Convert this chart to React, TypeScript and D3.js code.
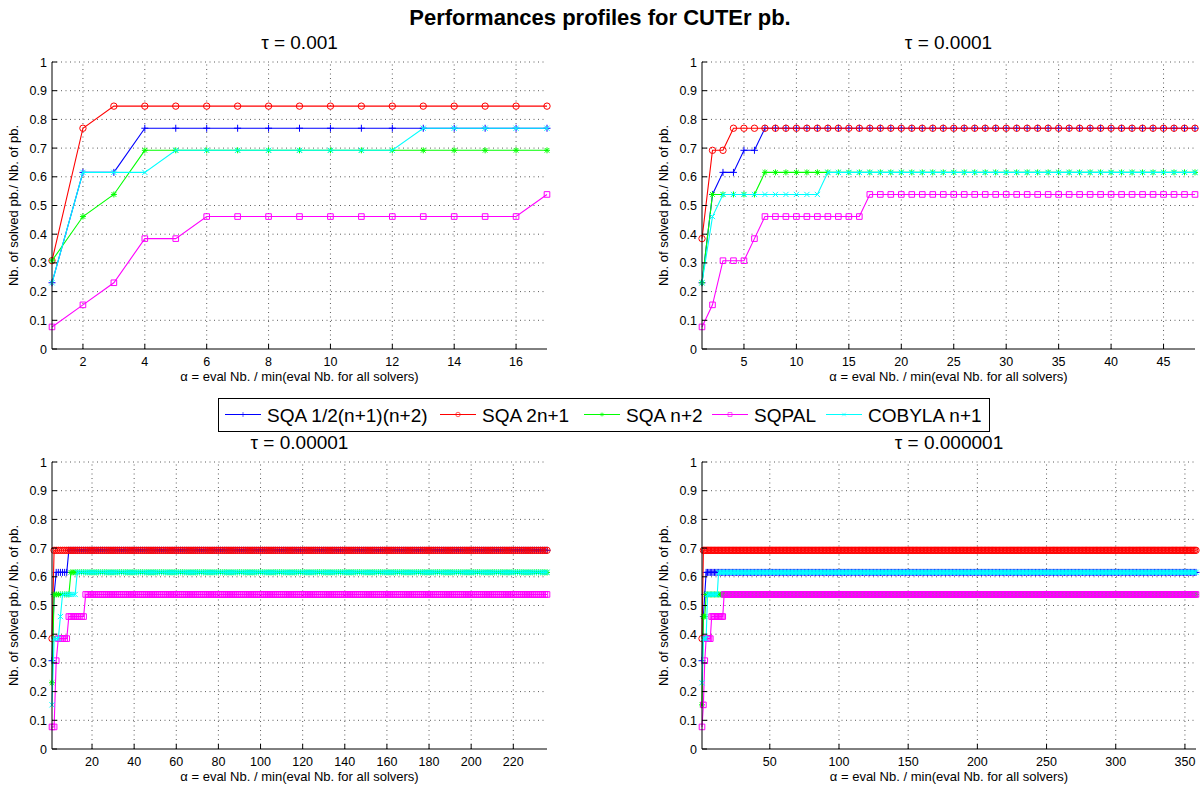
import React from "react";
import * as d3 from "d3";

// Performance profiles: fraction of the 13 CUTEr problems solved within a
// factor alpha of the best solver, for four accuracy levels tau.
// Each series is stored as its steps: [alpha at which the level starts, ratio].

const SERIES_NAMES = ["SQA 1/2(n+1)(n+2)", "SQA 2n+1", "SQA n+2", "SQPAL", "COBYLA n+1"];
const SERIES_COLORS = ["#0000ff", "#ff0000", "#00ff00", "#ff00ff", "#00ffff"];
const SERIES_MARKERS = ["plus", "circle", "star", "square", "cross"];

const TAU_LABELS = ["τ = 0.001", "τ = 0.0001", "τ = 0.00001", "τ = 0.000001"];
const ALPHA_MAX = [17, 48, 236, 358];
const X_TICKS = [
  [2, 4, 6, 8, 10, 12, 14, 16],
  [5, 10, 15, 20, 25, 30, 35, 40, 45],
  [20, 40, 60, 80, 100, 120, 140, 160, 180, 200, 220],
  [50, 100, 150, 200, 250, 300, 350],
];
const Y_TICKS = [0, 0.1, 0.2, 0.3, 0.4, 0.5, 0.6, 0.7, 0.8, 0.9, 1];

// tau = 0.001
const tau1Blue = [[1, 0.2308], [2, 0.6154], [4, 0.7692]];
const tau1Red = [[1, 0.3077], [2, 0.7692], [3, 0.8462]];
const tau1Green = [[1, 0.3077], [2, 0.4615], [3, 0.5385], [4, 0.6923]];
const tau1Magenta = [[1, 0.0769], [2, 0.1538], [3, 0.2308], [4, 0.3846], [6, 0.4615], [17, 0.5385]];
const tau1Cyan = [[1, 0.2308], [2, 0.6154], [5, 0.6923], [13, 0.7692]];

// tau = 0.0001
const tau2Blue = [[1, 0.2308], [2, 0.5385], [3, 0.6154], [5, 0.6923], [7, 0.7692]];
const tau2Red = [[1, 0.3846], [2, 0.6923], [4, 0.7692]];
const tau2Green = [[1, 0.2308], [2, 0.5385], [7, 0.6154]];
const tau2Magenta = [[1, 0.0769], [2, 0.1538], [3, 0.3077], [6, 0.3846], [7, 0.4615], [17, 0.5385]];
const tau2Cyan = [[1, 0.2308], [2, 0.4615], [3, 0.5385], [13, 0.6154]];

// tau = 0.00001
const tau3Blue = [[1, 0.3077], [2, 0.5385], [3, 0.6154], [9, 0.6923]];
const tau3Red = [[1, 0.3846], [2, 0.6923]];
const tau3Green = [[1, 0.2308], [2, 0.5385], [10, 0.6154]];
const tau3Magenta = [[1, 0.0769], [3, 0.3077], [4, 0.3846], [9, 0.4615], [17, 0.5385]];
const tau3Cyan = [[1, 0.1538], [2, 0.3846], [5, 0.4615], [6, 0.5385], [13, 0.6154]];

// tau = 0.000001
const tau4Blue = [[1, 0.3077], [2, 0.4615], [3, 0.5385], [4, 0.6154]];
const tau4Red = [[1, 0.3846], [2, 0.6923]];
const tau4Green = [[1, 0.1538], [2, 0.4615], [4, 0.5385]];
const tau4Magenta = [[1, 0.0769], [2, 0.1538], [3, 0.3077], [4, 0.3846], [8, 0.4615], [17, 0.5385]];
const tau4Cyan = [[1, 0.2308], [2, 0.3846], [5, 0.5385], [13, 0.6154]];

const PROFILES = [
  [tau1Blue, tau1Red, tau1Green, tau1Magenta, tau1Cyan],
  [tau2Blue, tau2Red, tau2Green, tau2Magenta, tau2Cyan],
  [tau3Blue, tau3Red, tau3Green, tau3Magenta, tau3Cyan],
  [tau4Blue, tau4Red, tau4Green, tau4Magenta, tau4Cyan],
];

const FONT = "'Liberation Sans', Arial, Helvetica, sans-serif";

const PANELS = [
  { left: 52, right: 547, top: 62, bottom: 349 },
  { left: 702, right: 1195, top: 62, bottom: 349 },
  { left: 52, right: 547, top: 462, bottom: 749 },
  { left: 702, right: 1196, top: 462, bottom: 749 },
];

// The profile value at each integer alpha, read from its steps.
function expandSteps(steps: number[][], alphaMax: number): [number, number][] {
  const pts: [number, number][] = [];
  for (let a = 1; a <= alphaMax; a++) {
    let v = steps[0][1];
    for (const [from, val] of steps) if (from <= a) v = val;
    pts.push([a, v]);
  }
  return pts;
}

function markerPath(kind: string, x: number, y: number): string {
  switch (kind) {
    case "plus":
      return `M${x - 3.5},${y}H${x + 3.5}M${x},${y - 3.5}V${y + 3.5}`;
    case "circle":
      return `M${x + 3.2},${y}A3.2,3.2 0 1 1 ${x - 3.2},${y}A3.2,3.2 0 1 1 ${x + 3.2},${y}Z`;
    case "star":
      return (
        `M${x - 3},${y}H${x + 3}M${x},${y - 3}V${y + 3}` +
        `M${x - 2.3},${y - 2.3}L${x + 2.3},${y + 2.3}M${x - 2.3},${y + 2.3}L${x + 2.3},${y - 2.3}`
      );
    case "square":
      return `M${x - 2.8},${y - 2.8}h5.6v5.6h-5.6Z`;
    case "cross":
      return `M${x - 2.6},${y - 2.6}L${x + 2.6},${y + 2.6}M${x - 2.6},${y + 2.6}L${x + 2.6},${y - 2.6}`;
    default:
      return "";
  }
}

function Panel({ index }: { index: number }) {
  const p = PANELS[index];
  const x = d3.scaleLinear().domain([1, ALPHA_MAX[index]]).range([p.left, p.right]);
  const y = d3.scaleLinear().domain([0, 1]).range([p.bottom, p.top]);
  const line = d3
    .line<[number, number]>()
    .x((d) => x(d[0]))
    .y((d) => y(d[1]));
  const cx = (p.left + p.right) / 2;
  const cy = (p.top + p.bottom) / 2;

  return (
    <g>
      {/* dotted grid */}
      <g stroke="#333" strokeWidth={0.8} strokeDasharray="1 3.5" fill="none">
        {X_TICKS[index].map((t) => (
          <line key={"gx" + t} x1={x(t)} x2={x(t)} y1={p.bottom} y2={p.top} />
        ))}
        {Y_TICKS.slice(1).map((t) => (
          <line key={"gy" + t} x1={p.left} x2={p.right} y1={y(t)} y2={y(t)} />
        ))}
      </g>

      {/* series */}
      {PROFILES[index].map((steps, si) => {
        const pts = expandSteps(steps, ALPHA_MAX[index]);
        const marks = pts.map((d) => markerPath(SERIES_MARKERS[si], x(d[0]), y(d[1]))).join("");
        return (
          <g key={si} stroke={SERIES_COLORS[si]} fill="none">
            <path d={line(pts) || ""} strokeWidth={1.1} />
            <path d={marks} strokeWidth={1} />
          </g>
        );
      })}

      {/* axes */}
      <g stroke="#000" strokeWidth={1} fill="none">
        <line x1={p.left} x2={p.right} y1={p.bottom} y2={p.bottom} />
        <line x1={p.left} x2={p.left} y1={p.bottom} y2={p.top} />
        {X_TICKS[index].map((t) => (
          <line key={"tx" + t} x1={x(t)} x2={x(t)} y1={p.bottom} y2={p.bottom - 5} />
        ))}
        {Y_TICKS.map((t) => (
          <line key={"ty" + t} x1={p.left} x2={p.left + 5} y1={y(t)} y2={y(t)} />
        ))}
      </g>

      <g fontFamily={FONT} fontSize={12.5} fill="#000">
        {X_TICKS[index].map((t) => (
          <text key={"lx" + t} x={x(t)} y={p.bottom + 17} textAnchor="middle">
            {t}
          </text>
        ))}
        {Y_TICKS.map((t) => (
          <text key={"ly" + t} x={p.left - 5} y={y(t) + 4.5} textAnchor="end">
            {d3.format("~g")(t)}
          </text>
        ))}
        <text x={cx} y={p.bottom + 32} textAnchor="middle" fontSize={13}>
          α = eval Nb. / min(eval Nb. for all solvers)
        </text>
        <text
          transform={`translate(${p.left - 34},${cy}) rotate(-90)`}
          textAnchor="middle"
          fontSize={13}
        >
          Nb. of solved pb./ Nb. of pb.
        </text>
        <text x={cx} y={p.top - 13} textAnchor="middle" fontSize={19}>
          {TAU_LABELS[index]}
        </text>
      </g>
    </g>
  );
}

const LEGEND_ITEM_X = [225, 440, 584, 712, 826];

function Legend() {
  const top = 398;
  const bottom = 431;
  const my = (top + bottom) / 2;
  return (
    <g>
      <rect x={218.5} y={top + 0.5} width={771} height={bottom - top} fill="#fff" stroke="#000" strokeWidth={1} />
      {SERIES_NAMES.map((name, i) => {
        const x0 = LEGEND_ITEM_X[i];
        return (
          <g key={name}>
            <g stroke={SERIES_COLORS[i]} fill="none">
              <line x1={x0} x2={x0 + 36} y1={my} y2={my} strokeWidth={1} />
              <path
                d={markerPath(SERIES_MARKERS[i], x0 + 18, my)}
                strokeWidth={0.9}
                transform={`translate(${x0 + 18},${my}) scale(0.7) translate(${-(x0 + 18)},${-my})`}
              />
            </g>
            <text x={x0 + 42} y={my + 7} fontFamily={FONT} fontSize={19} fill="#000">
              {name}
            </text>
          </g>
        );
      })}
    </g>
  );
}

export default function App() {
  return (
    <svg
      width={1200}
      height={785}
      viewBox="0 0 1200 785"
      style={{ position: "absolute", left: 0, top: 0, background: "#fff" }}
    >
      <rect width={1200} height={785} fill="#fff" />
      <text x={600} y={25} textAnchor="middle" fontFamily={FONT} fontSize={22} fontWeight="bold">
        Performances profiles for CUTEr pb.
      </text>
      {[0, 1, 2, 3].map((i) => (
        <Panel key={i} index={i} />
      ))}
      <Legend />
    </svg>
  );
}
